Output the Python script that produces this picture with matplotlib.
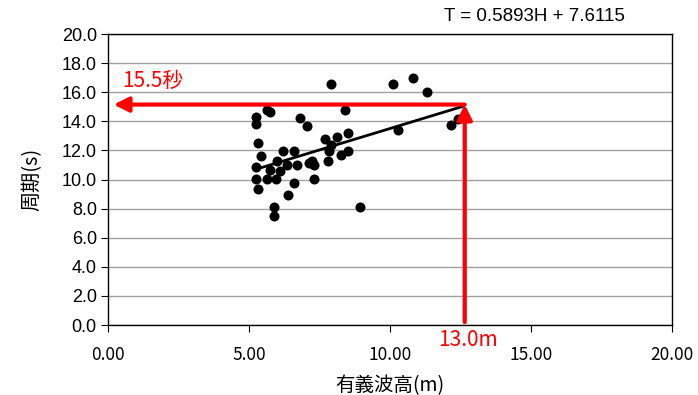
import numpy as np
import matplotlib
matplotlib.use('Agg')
import matplotlib.pyplot as plt
from matplotlib import font_manager

# significant wave height (m) and period (s)
wave_h = [7.90, 10.12, 10.83, 11.32, 5.63, 5.74, 5.25, 5.25, 6.81, 7.05,
          8.39, 10.28, 12.17, 12.42, 5.31, 5.41, 5.25, 5.25, 5.32, 5.63,
          5.74, 5.96, 5.98, 6.10, 6.22, 6.34, 6.60, 6.60, 6.38, 6.71,
          5.89, 5.89, 7.13, 7.25, 7.30, 7.30, 7.70, 7.91, 7.85, 7.79,
          8.12, 8.50, 8.28, 8.52, 8.94]
period = [16.56, 16.56, 16.98, 16.01, 14.78, 14.64, 14.27, 13.81, 14.23, 13.68,
          14.78, 13.40, 13.72, 14.14, 12.53, 11.62, 10.88, 10.06, 9.33, 10.06,
          10.65, 10.06, 11.29, 10.56, 11.94, 10.97, 11.98, 9.78, 8.96, 10.97,
          8.09, 7.49, 11.16, 11.25, 11.02, 10.01, 12.76, 12.35, 11.94, 11.25,
          12.94, 13.17, 11.70, 11.94, 8.09]

slope, icpt = 0.5893, 7.6115
fit_x = [5.25, 12.6]
target_h = 12.65
target_t = 15.15

xticks = [0, 5, 10, 15, 20]
yticks = np.arange(0, 20.1, 2)

installed = {f.name for f in font_manager.fontManager.ttflist}
mono = [f for f in ['Noto Sans Mono CJK JP', 'Noto Sans CJK JP'] if f in installed]
jp_mono = mono + ['DejaVu Sans']
jp = ['Noto Sans CJK JP', 'DejaVu Sans']
arial = ['Liberation Sans', 'DejaVu Sans']

fig = plt.figure(figsize=(6.98, 3.95), dpi=100)
ax = fig.add_axes([0.1547, 0.1772, 0.9628 - 0.1547, 0.9139 - 0.1772])

ax.set_xlim(0, 20)
ax.set_ylim(0, 20)
ax.set_xticks(xticks)
ax.set_xticklabels([f'{v:.2f}' for v in xticks], family=jp_mono, fontsize=12.5)
ax.set_yticks(yticks)
ax.set_yticklabels([f'{v:.1f}' for v in yticks], family=arial, fontsize=13)
ax.tick_params(axis='x', direction='out', length=5, pad=10, color='black')
ax.tick_params(axis='y', direction='out', length=5, pad=3, color='black')
ax.yaxis.grid(True, color='#a0a0a0', lw=1)
ax.set_axisbelow(True)
for s in ax.spines.values():
    s.set_color('black')
    s.set_linewidth(1)

ax.scatter(wave_h, period, s=52, color='black', zorder=3, linewidths=0)
fx = np.array(fit_x)
ax.plot(fx, slope * fx + icpt, color='black', lw=2, zorder=3)

arr = dict(arrowstyle='-|>', color='red', lw=3, mutation_scale=22,
           shrinkA=0, shrinkB=0)
ax.annotate('', xy=(0.2, target_t), xytext=(target_h, target_t),
            arrowprops=arr, zorder=4)
ax.annotate('', xy=(target_h, target_t), xytext=(target_h, 0.2),
            arrowprops=arr, zorder=4)

ax.text(0.5, 16.8, '15.5秒', color='red', family=jp_mono, fontsize=15,
        ha='left', va='center')
ax.text(target_h + 0.1, -1.0, '13.0m', color='red', family=jp_mono, fontsize=15,
        ha='center', va='center', clip_on=False)

ax.set_xlabel('有義波高(m)', family=jp, fontsize=14, labelpad=8)
ax.set_ylabel('周期(s)', family=jp, fontsize=14.5, labelpad=14)

fig.text(0.765, 0.957, f'T = {slope}H + {icpt}', family=arial, fontsize=13.5,
         ha='center', va='center')

fig.savefig('out.png', dpi=100)
